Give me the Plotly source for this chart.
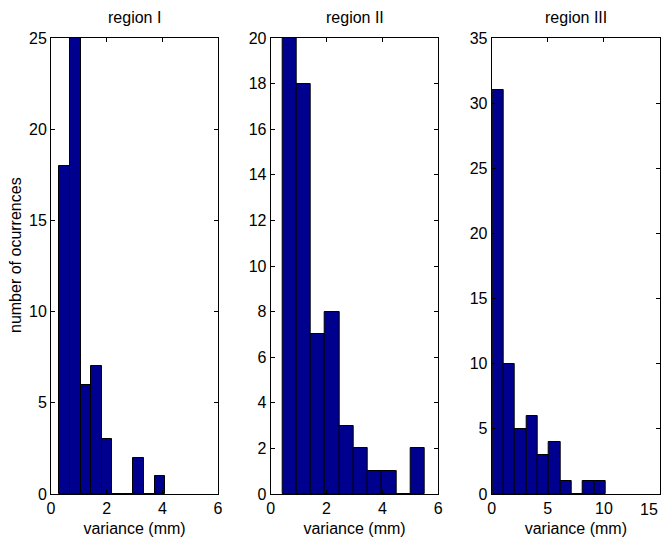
import plotly.graph_objects as go

# Histogram data (bin start, bin width, counts)
titles = ["region I", "region II", "region III"]

r1_start, r1_width = 0.30, 0.38
r1_counts = [18, 25, 6, 7, 3, 0, 0, 2, 0, 1]

r2_start, r2_width = 0.42, 0.51
r2_counts = [20, 18, 7, 8, 3, 2, 1, 1, 0, 2]

r3_start, r3_width = 0.05, 1.01
r3_counts = [31, 10, 5, 6, 3, 4, 1, 0, 1, 1]

x_ranges = [[0, 6], [0, 6], [0, 15]]
x_ticks = [[0, 2, 4, 6], [0, 2, 4, 6], [0, 5, 10, 15]]
y_ranges = [[0, 25], [0, 20], [0, 35]]
y_dticks = [5, 2, 5]

x_title = "variance (mm)"
y_title = "number of ocurrences"

series = [(r1_start, r1_width, r1_counts),
          (r2_start, r2_width, r2_counts),
          (r3_start, r3_width, r3_counts)]

W, H = 668, 537
x_domains = [[51 / W, 218 / W], [270.7 / W, 438.3 / W], [491.7 / W, 660 / W]]
y_domain = [1 - 494 / H, 1 - 38 / H]

FONT = "Liberation Sans, Arial, Helvetica, sans-serif"
FS = 16
BAR = "#00008F"

fig = go.Figure()
layout = dict(
    template="none",
    width=W, height=H, autosize=False,
    margin=dict(l=0, r=0, t=0, b=0, pad=0),
    paper_bgcolor="white", plot_bgcolor="white",
    showlegend=False,
    font=dict(family=FONT, size=FS, color="black"),
    bargap=0,
    annotations=[],
)

for i, (start, width, counts) in enumerate(series):
    n = i + 1
    xa = "x" if n == 1 else f"x{n}"
    ya = "y" if n == 1 else f"y{n}"
    centers = [start + width * (k + 0.5) for k in range(len(counts))]
    fig.add_trace(go.Bar(
        x=centers, y=counts, width=[width] * len(counts),
        marker=dict(color=BAR, line=dict(color="black", width=1)),
        xaxis=xa, yaxis=ya, hoverinfo="x+y",
    ))
    axis_common = dict(
        automargin=False,
        showline=True, linecolor="black", linewidth=1, mirror="ticks",
        ticks="inside", ticklen=4, tickcolor="black", tickwidth=1,
        showgrid=False, zeroline=False,
        tickfont=dict(family=FONT, size=FS, color="black"),
    )
    ticks = x_ticks[i]
    # the last tick label of the widest panel would run off the page;
    # it is drawn right-aligned at its tick instead
    shown = ticks[:-1] if n == 3 else ticks
    labels = [str(t) for t in shown] + ([""] if n == 3 else [])
    layout["xaxis" if n == 1 else f"xaxis{n}"] = dict(
        domain=x_domains[i], range=x_ranges[i],
        tickvals=ticks, ticktext=labels,
        anchor=ya,
        title=dict(text=x_title, standoff=6,
                   font=dict(family=FONT, size=FS, color="black")),
        **axis_common,
    )
    layout["yaxis" if n == 1 else f"yaxis{n}"] = dict(
        domain=y_domain, range=y_ranges[i], dtick=y_dticks[i], tick0=0,
        anchor=xa, **axis_common,
    )
    layout["annotations"].append(dict(
        text=titles[i], xref="paper", yref="paper",
        x=(x_domains[i][0] + x_domains[i][1]) / 2, y=1 - 18 / H,
        xanchor="center", yanchor="middle", showarrow=False,
        font=dict(family=FONT, size=FS, color="black"),
    ))

# right-most tick label of region III, right-aligned at its tick
layout["annotations"].append(dict(
    text=str(x_ticks[2][-1]), xref="x3", yref="paper",
    x=x_ticks[2][-1], y=1 - 509 / H,
    xanchor="right", yanchor="middle", showarrow=False,
    font=dict(family=FONT, size=FS, color="black"),
))

# y-axis label
layout["annotations"].append(dict(
    text=y_title, xref="paper", yref="paper",
    x=15 / W, y=1 - 255 / H, textangle=-90,
    xanchor="center", yanchor="middle", showarrow=False,
    font=dict(family=FONT, size=FS, color="black"),
))

fig.update_layout(**layout)
fig.write_html("out.html", config={"displayModeBar": False},
               post_script="document.body.style.margin='0';")
